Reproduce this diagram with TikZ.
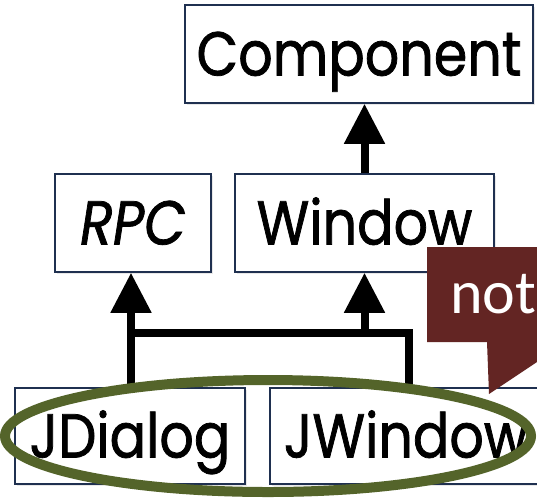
\documentclass[tikz,border=0pt]{standalone}
\usepackage{fontspec}
\setmainfont{Poppins}[FakeStretch=0.87, FakeBold=1.2]
\newfontfamily\calloutfont{Carlito}
\usetikzlibrary{arrows.meta,shadows}
\definecolor{boxline}{HTML}{1F3050}
\definecolor{calloutred}{HTML}{632523}
\definecolor{ringgreen}{HTML}{54642A}
\tikzset{
  classbox/.style={draw=boxline, line width=1.5pt, fill=white, rectangle,
    inner sep=0pt, minimum height=98pt, font=\fontsize{62}{62}\selectfont,
    text height=43pt, text depth=0pt,
    drop shadow={opacity=0.18, shadow xshift=2pt, shadow yshift=-2pt}},
  link/.style={line width=8pt, black},
  inherit/.style={link, -{Triangle[width=39pt,length=40pt]}},
}
\begin{document}
\begin{tikzpicture}[x=1pt,y=-1pt]
\useasboundingbox (0,0) rectangle (537,499);
\clip (0,0) rectangle (537,499);

% class boxes
\node[classbox, minimum width=348pt] (comp) at (359,54) {Component};
\node[classbox, minimum width=156pt] (rpc) at (133,223) {\itshape RPC};
\node[classbox, minimum width=259pt] (win) at (364.5,223) {Window};
\node[classbox, minimum width=230pt, minimum height=96pt] (jd) at (130,436) {JDialog};
\node[classbox, minimum width=272pt, minimum height=96pt] (jw) at (406,436) {JWindow};

% inheritance connectors
\coordinate (bl) at (131,333);
\coordinate (br) at (409,333);
\draw[link, line join=miter] (bl |- jd.north) -- (bl) -- (br) -- (br |- jw.north);
\draw[inherit] (bl) -- (bl |- rpc.south);
\draw[inherit] (win.south |- bl) -- (win.south);
\draw[inherit] (win.north) -- (win.north |- comp.south);

% highlight ring round the two subclasses
\draw[ringgreen, line width=10pt] (268,436) ellipse [x radius=263, y radius=56];

% callout
\fill[calloutred] (427,247) -- (537,247) -- (537,362) -- (489,394) -- (487,342) -- (427,342) -- cycle;
\node[anchor=base west, inner sep=0pt, text=white, font=\calloutfont\fontsize{62}{62}\selectfont] (note) at (450,313) {not};
\end{tikzpicture}
\end{document}
